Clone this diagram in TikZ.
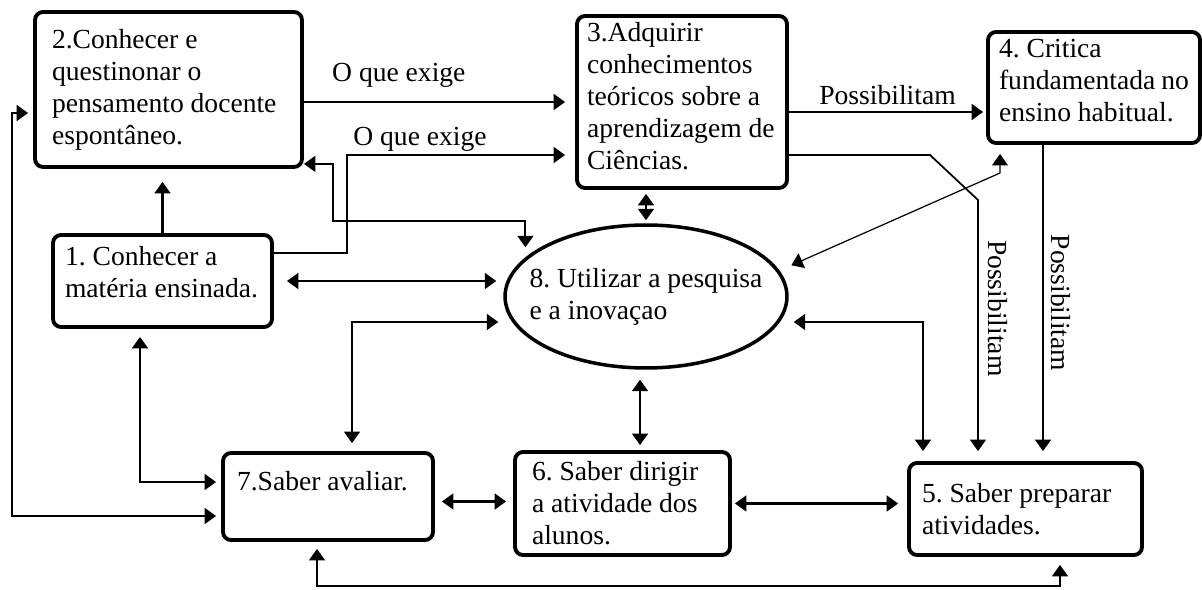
\documentclass[tikz,border=0pt]{standalone}
\usepackage{fontspec}
\setmainfont{Liberation Serif}
\usetikzlibrary{arrows.meta,shapes.geometric}
\frenchspacing
\hyphenpenalty=10000

\begin{document}
\begin{tikzpicture}[
		x=0.02cm, y=-0.02cm,
		% Define styles for nodes
		every node/.style={align=flush left, inner sep=0pt, font=\fontsize{15.7pt}{18.2pt}\selectfont},
		box/.style={draw, line width=2.2pt, rounded corners=0.16cm},
		idea/.style={draw, ellipse, line width=2pt},
		% Define styles for links
		link/.style={draw, line width=1.2pt, -{Triangle[width=9pt,length=6.5pt]}},
		both/.style={link, {Triangle[width=9pt,length=6.5pt]}-{Triangle[width=9pt,length=6.5pt]}},
		side/.style={rotate=-90, anchor=south}
	]
	\useasboundingbox (0,0) rectangle (1202,590);

	% Top row
	\node[box, minimum width=5.34cm, minimum height=3.1cm, text width=4.66cm] (pensamento) at (168.5,89.5)
		{2.Conhecer e\\ questinonar o\\ pensamento docente\\ espontâneo.};
	\node[box, minimum width=4.2cm, minimum height=3.44cm, text width=3.8cm, text depth=2.8cm] (teoria) at (682,102)
		{3.Adquirir\\ conhecimentos\\ teóricos sobre a\\ aprendizagem~de\\ Ciências.};
	\node[box, minimum width=4.24cm, minimum height=2.22cm, text width=3.8cm, text depth=1.56cm] (critica) at (1094,87.5)
		{4. Critica\\ fundamentada~no\\ ensino~habitual.};

	% Middle row
	\node[box, minimum width=4.38cm, minimum height=1.84cm, text width=3.9cm, text depth=1cm] (materia) at (162.5,281)
		{1. Conhecer a\\ matéria~ensinada.};
	\node[idea, minimum width=5.64cm, minimum height=2.86cm, inner xsep=-0.8cm] (pesquisa) at (646,296.5)
		{8. Utilizar a pesquisa\\ e a inovaçao};

	% Bottom row
	\node[box, minimum width=4.2cm, minimum height=1.74cm, text width=3.64cm, text depth=0.63cm] (avaliar) at (328,496.5)
		{7.Saber avaliar.};
	\node[box, minimum width=4.3cm, minimum height=2.06cm, text width=3.62cm] (dirigir) at (622.5,503.5)
		{6. Saber dirigir\\ a atividade dos\\ alunos.};
	\node[box, minimum width=4.66cm, minimum height=1.84cm, text width=4.14cm] (preparar) at (1025.5,509)
		{5. Saber preparar\\ atividades.};

	% Bends of the links
	\coordinate (exige) at (347,155);
	\coordinate (volta) at (333,221);
	\coordinate (quebra) at (1000,173);
	\coordinate (desvio1) at (930,155);
	\coordinate (desvio2) at (978,200);
	\coordinate (direita) at (923,322);
	\coordinate (esquerda) at (352,322);
	\coordinate (canto) at (140,482);
	\coordinate (margem1) at (12,113);
	\coordinate (margem2) at (12,516);
	\coordinate (fundo1) at (317,586);
	\coordinate (fundo2) at (1060,586);

	% Links from the top boxes
	\draw[link, shorten >=0.2cm] (pensamento.east |- teoria.west) -- (teoria.west)
		node[pos=0.35, above=0.26cm] {O que exige};
	\draw[link, shorten >=0.2cm] ([yshift=0.56cm]materia.east) -| (exige) -- (exige -| teoria.west)
		node[pos=0.32, above=0.04cm] {O que exige};
	\draw[both, shorten >=0.2cm] ([yshift=0.1cm]pensamento.south east) -| (volta) -| (pesquisa.162);
	\draw[link, shorten >=0.26cm] (materia.north) -- (materia.north |- pensamento.south);
	\draw[link, shorten >=0.06cm] ([yshift=-0.2cm]teoria.east) -- ([yshift=-0.2cm]teoria.east -| critica.west)
		node[midway, above=0.12cm] {Possibilitam};
	\draw[link, line width=1pt, shorten >=0.2cm] (teoria.east |- desvio1) -- (desvio1) -- (desvio2) -- (desvio2 |- preparar.north)
		node[pos=0.415, side, inner sep=0.18cm] {Possibilitam};
	\draw[link, shorten >=0.2cm] ([xshift=-1.02cm]critica.south) -- ([xshift=-1.02cm]critica.south |- preparar.north)
		node[pos=0.5, side, inner sep=0.14cm] {Possibilitam};

	% Links to the ellipse
	\draw[both, shorten <=0.26cm, shorten >=0.14cm] (materia.east) -- (materia.east -| pesquisa.west);
	\draw[both, shorten <=0.08cm, shorten >=0.06cm] (pesquisa.north |- teoria.south) -- (pesquisa.north);
	\draw[both, line width=0.7pt, shorten <=0.18cm, shorten >=0.26cm] (critica.south -| quebra) -- (quebra) -- (pesquisa.11);
	\draw[both, shorten <=0.1cm, shorten >=0.2cm] (direita -| pesquisa.east) -- (direita) -- (direita |- preparar.north);
	\draw[both, shorten <=0.1cm, shorten >=0.16cm] (esquerda -| pesquisa.west) -- (esquerda) -- (esquerda |- avaliar.north);
	\draw[both, shorten <=0.2cm, shorten >=0.1cm] ([xshift=-0.12cm]pesquisa.south) -- ([xshift=-0.12cm]pesquisa.south |- dirigir.north);

	% Links of the bottom row
	\draw[both, shorten <=0.14cm, shorten >=0.14cm] ([yshift=-0.1cm]avaliar.east) -- ([yshift=-0.1cm]avaliar.east -| dirigir.west);
	\draw[both, shorten <=0.06cm, shorten >=0.18cm] (dirigir.east) -- (dirigir.east -| preparar.west);
	\draw[both, shorten <=0.16cm, shorten >=0.1cm] (materia.south -| canto) -- (canto) -- (canto -| avaliar.west);
	\draw[both, shorten <=0.1cm, shorten >=0.1cm] (margem1 -| pensamento.west) -- (margem1) -- (margem2) -- (margem2 -| avaliar.west);
	\draw[both, shorten <=0.14cm, shorten >=0.16cm] (avaliar.south -| fundo1) -- (fundo1) -- (fundo2) -- (fundo2 |- preparar.south);
\end{tikzpicture}
\end{document}
